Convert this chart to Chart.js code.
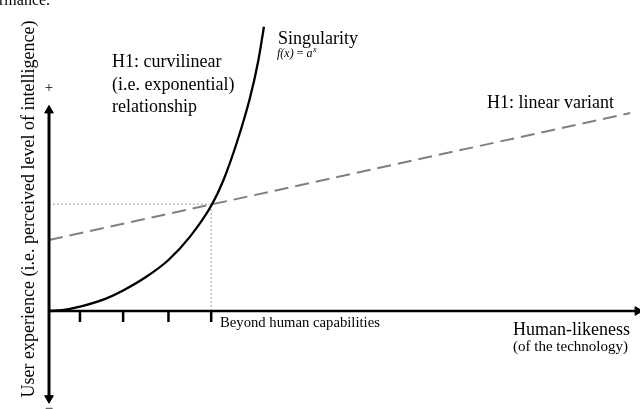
<!DOCTYPE html>
<html><head><meta charset="utf-8">
<script src="https://cdn.jsdelivr.net/npm/chart.js@4/dist/chart.umd.min.js"></script>
<style>html,body{margin:0;padding:0;background:#fff}#wrap{width:640px;height:409px;position:relative}</style>
</head><body><div id="wrap"><canvas id="c" width="640" height="409"></canvas></div>
<script>
// Exponential curve (H1: curvilinear)
const curveX = [0, 0.3, 0.71, 1.32, 1.70, 2.24, 2.74, 3.23, 3.73, 4.00, 4.31, 4.61, 4.80, 4.93];
const curveY = [0, 0.02, 0.10, 0.29, 0.47, 0.79, 1.17, 1.70, 2.43, 3.00, 3.87, 4.89, 5.74, 6.52];
// Linear variant (dashed)
const linearX = [0, 13.33];
const linearY = [1.63, 4.54];
// Intersection guide
const crossX = 3.72;
const crossY = 2.45;
// Tick marks on the human-likeness axis
const tickX = [0.71, 1.70, 2.74, 3.72];
const tickDepth = -0.25;
// Axis extents
const yAxisRange = [-2.0, 4.6];
const xAxisRange = [0, 13.5];

const pts = (xs, ys) => xs.map((x, i) => ({x, y: ys[i]}));
const tickData = [];
tickX.forEach(x => { tickData.push({x, y: 0}); tickData.push({x, y: tickDepth}); tickData.push({x, y: null}); });

const FONT = "'Liberation Serif','Times New Roman',serif";
const textPlugin = {
  id: 'texts',
  afterDatasetsDraw(chart) {
    const ctx = chart.ctx;
    ctx.save();
    ctx.fillStyle = '#000';
    ctx.textBaseline = 'alphabetic';
    ctx.textAlign = 'left';
    const t = (s, x, y, size, style) => { ctx.font = (style || '') + ' ' + size + 'px ' + FONT; ctx.fillText(s, x, y); return x + ctx.measureText(s).width; };
    t('rmance.', -1, 5, 16);
    t('Singularity', 278, 44, 18);
    let fx = t('f(x)', 277, 57, 12, 'italic');
    fx = t(' = ', fx, 57, 12);
    fx = t('a', fx, 57, 12, 'italic');
    t('x', fx + 0.5, 52, 8, 'italic');
    t('H1: curvilinear', 112, 67, 18);
    t('(i.e. exponential)', 112, 90, 18);
    t('relationship', 112, 112, 18);
    t('H1: linear variant', 487, 108, 18);
    t('Beyond human capabilities', 220, 327, 14.7);
    t('Human-likeness', 513, 335, 18);
    t('(of the technology)', 513, 351, 15);
    ctx.textAlign = 'center';
    t('+', 49, 92, 15);
    t('\u2212', 49, 413, 15);
    ctx.translate(28, 209);
    ctx.rotate(-Math.PI / 2);
    t('User experience (i.e. perceived level of intelligence)', 0, 6, 18);
    ctx.restore();
  }
};

new Chart(document.getElementById('c'), {
  type: 'scatter',
  data: {
    datasets: [
      {data: pts(curveX, curveY), showLine: true, borderColor: '#000', borderWidth: 2.3, pointRadius: 0, cubicInterpolationMode: 'monotone', order: 1},
      {data: pts(linearX, linearY), showLine: true, borderColor: '#808080', borderWidth: 2, borderDash: [14, 7], pointRadius: 0, order: 2},
      {data: [{x: 0, y: crossY}, {x: crossX, y: crossY}], showLine: true, borderColor: '#a0a0a0', borderWidth: 1, borderDash: [2, 2], pointRadius: 0, order: 3},
      {data: [{x: crossX, y: 0}, {x: crossX, y: crossY}], showLine: true, borderColor: '#a0a0a0', borderWidth: 1, borderDash: [2, 2], pointRadius: 0, order: 3},
      {data: [{x: 0, y: yAxisRange[0]}, {x: 0, y: yAxisRange[1]}], showLine: true, borderColor: '#000', borderWidth: 3,
        pointStyle: 'triangle', pointRadius: [5, 5], pointRotation: [180, 0], pointBackgroundColor: '#000', pointBorderColor: '#000', pointBorderWidth: 1, order: 0},
      {data: [{x: xAxisRange[0], y: 0}, {x: xAxisRange[1], y: 0}], showLine: true, borderColor: '#000', borderWidth: 2.5,
        pointStyle: 'triangle', pointRadius: [0, 5], pointRotation: [0, 90], pointBackgroundColor: '#000', pointBorderColor: '#000', pointBorderWidth: 1, order: 0},
      {data: tickData, showLine: true, spanGaps: false, borderColor: '#000', borderWidth: 2.5, pointRadius: 0, order: 0}
    ]
  },
  options: {
    responsive: false, animation: false, devicePixelRatio: 1,
    layout: {padding: 0, autoPadding: false},
    plugins: {legend: {display: false}, tooltip: {enabled: false}},
    scales: {
      x: {type: 'linear', display: false, min: -1.124, max: 13.555},
      y: {type: 'linear', display: false, min: -2.248, max: 7.133}
    }
  },
  plugins: [textPlugin]
});
</script></body></html>
